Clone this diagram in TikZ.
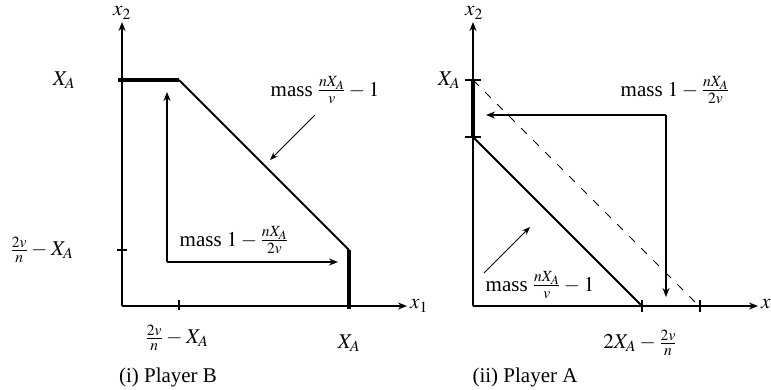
\documentclass[tikz,border=0pt]{standalone}
\usepackage{mathptmx}
\usepackage{fontspec}
\setmainfont{Liberation Serif}
\usetikzlibrary{arrows.meta}
\AtBeginDocument{\medmuskip=3mu plus 1mu minus 2mu\relax}
\tikzset{
  axis/.style={line width=2pt,-{Stealth[length=9pt,width=7pt]}},
  heavy/.style={line width=4pt},
  curve/.style={line width=2pt},
  tickmark/.style={line width=1.2pt},
  flow/.style={line width=2pt},
  tipflow/.style={-{Stealth[length=9pt,width=7pt]}},
  pointer/.style={line width=0.9pt,-{Stealth[length=8pt,width=6pt]}},
  guide/.style={line width=0.8pt,dash pattern=on 8pt off 9pt},
  lbl/.style={inner sep=1pt}
}
\begin{document}
\begin{tikzpicture}[x=1pt,y=-1pt,font=\fontsize{21}{25}\selectfont]
\useasboundingbox (0,0) rectangle (771,389);
% ---------- panel (i)
\coordinate (O1) at (122,306);
\coordinate (Y1) at (122,22);
\coordinate (X1) at (407,306);
\draw[axis] (O1) -- (Y1);
\draw[axis] (O1) -- (X1);
\node[lbl] (x2a) at (122,13) {$x_2$};
\node[lbl,anchor=west] (x1a) at (409,306) {$x_1$};
\coordinate (P1) at (118,80);
\coordinate (P2) at (179,80);
\coordinate (P3) at (349,250);
\coordinate (P4) at (349,309);
\draw[curve] (P2) -- (P3);
\draw[heavy] (P1) -- (P2);
\draw[heavy] (P3) -- (P4);
\coordinate (T1a) at (117,250); \coordinate (T1b) at (127,250);
\draw[tickmark] (T1a) -- (T1b);
\coordinate (T2a) at (179,300); \coordinate (T2b) at (179,310);
\draw[tickmark] (T2a) -- (T2b);
\coordinate (A1) at (167,92);
\coordinate (A2) at (167,262);
\coordinate (A3) at (338,262);
\draw[flow,tipflow] (A2) -- (A1);
\draw[flow,tipflow] (A2) -- (A3);
\node[lbl] (XA1) at (64,80) {$X_A$};
\node[lbl] (yt1) at (42,250) {$\frac{2v}{n}-X_A$};
\node[lbl] (xt1) at (177,338) {$\frac{2v}{n}-X_A$};
\node[lbl] (xt2) at (349,343) {$X_A$};
\node[lbl] (m1) at (234,240) {mass $1-\frac{nX_A}{2v}$};
\node[lbl] (m2) at (325,90) {mass $\frac{nX_A}{v}-1$};
\coordinate (p1s) at (315,115);
\coordinate (p1e) at (270,160);
\draw[pointer] (p1s) -- (p1e);
\node[lbl] (cap1) at (168,377) {(i) Player B};
% ---------- panel (ii)
\coordinate (O2) at (473,306);
\coordinate (Y2) at (473,22);
\coordinate (X2) at (758,306);
\draw[axis] (O2) -- (Y2);
\draw[axis] (O2) -- (X2);
\node[lbl] (x2b) at (474,13) {$x_2$};
\node[lbl,anchor=west] (x1b) at (760,306) {$x_1$};
\coordinate (Q1) at (473,80);
\coordinate (Q2) at (473,137);
\coordinate (Q3) at (642,306);
\coordinate (Q4) at (699,306);
\draw[heavy] (Q1) -- (Q2);
\coordinate (U1a) at (465,80); \coordinate (U1b) at (481,80);
\coordinate (U2a) at (465,137); \coordinate (U2b) at (481,137);
\draw[tickmark] (U1a) -- (U1b);
\draw[tickmark] (U2a) -- (U2b);
\draw[curve] (Q2) -- (Q3);
\draw[guide] (Q1) -- (Q4);
\coordinate (V1a) at (642,300); \coordinate (V1b) at (642,312);
\coordinate (V2a) at (700,300); \coordinate (V2b) at (700,312);
\draw[tickmark] (V1a) -- (V1b);
\draw[tickmark] (V2a) -- (V2b);
\coordinate (B1) at (486,115);
\coordinate (B2) at (666,115);
\coordinate (B3) at (666,297);
\draw[flow,tipflow] (B2) -- (B1);
\draw[flow,tipflow] (B2) -- (B3);
\node[lbl] (XA2) at (449,80) {$X_A$};
\node[lbl] (xt3) at (640,343) {$2X_A-\frac{2v}{n}$};
\node[lbl] (m3) at (675,90) {mass $1-\frac{nX_A}{2v}$};
\node[lbl] (m4) at (540,285) {mass $\frac{nX_A}{v}-1$};
\coordinate (p2s) at (484,273);
\coordinate (p2e) at (530,227);
\draw[pointer] (p2s) -- (p2e);
\node[lbl] (cap2) at (525,377) {(ii) Player A};
\end{tikzpicture}
\end{document}
